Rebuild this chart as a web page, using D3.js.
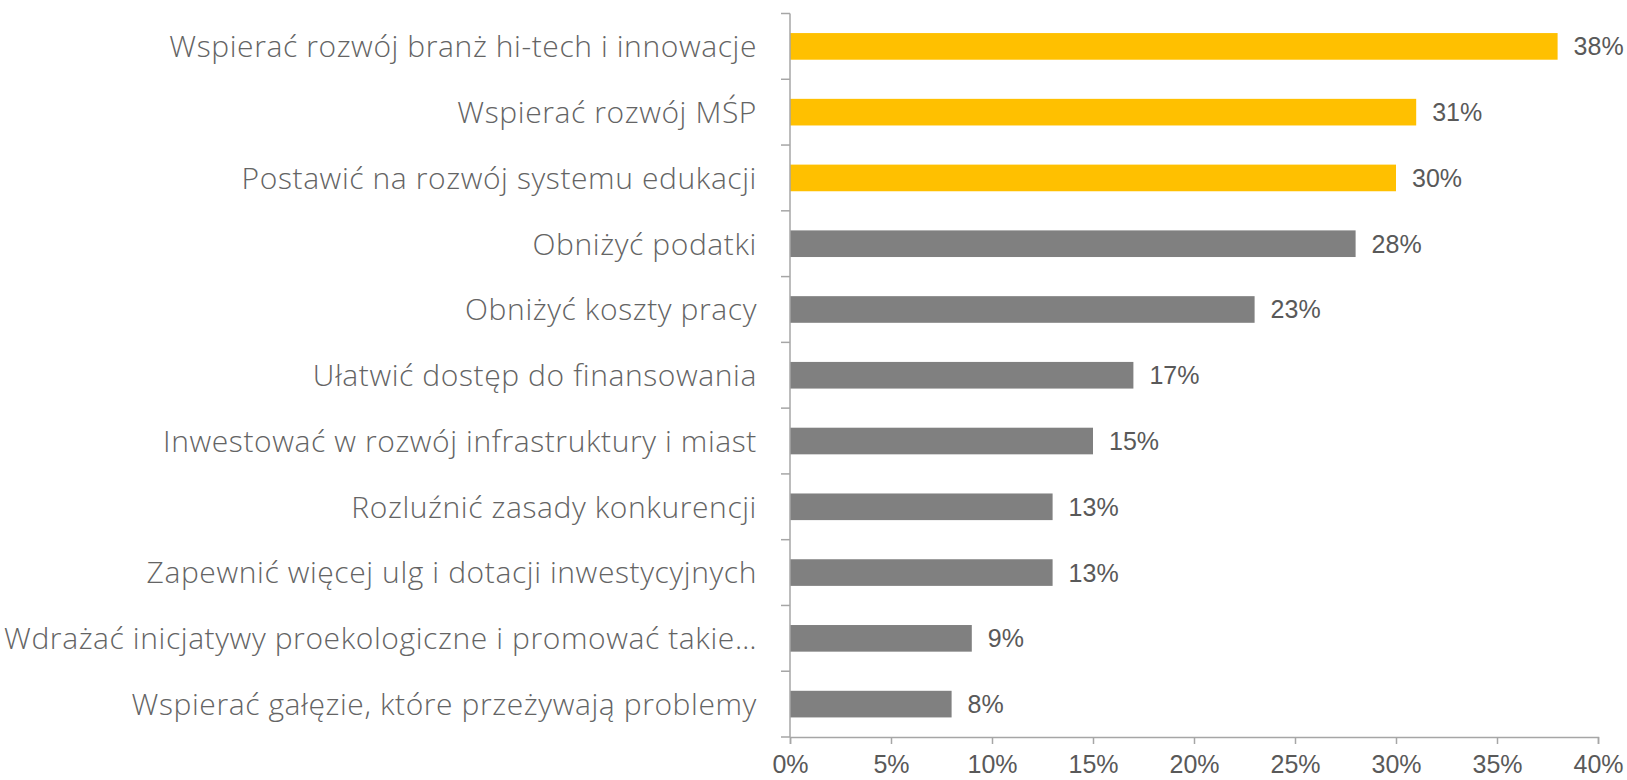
<!DOCTYPE html>
<html>
<head>
<meta charset="utf-8">
<script src="https://cdn.jsdelivr.net/npm/d3@7"></script>
<style>
  body { margin: 0; background: #fff; }
  svg { display: block; }
</style>
</head>
<body>
<div class="chart"></div>
<script>
'use strict';

var categories = [
  'Wspierać rozwój branż hi-tech i innowacje',
  'Wspierać rozwój MŚP',
  'Postawić na rozwój systemu edukacji',
  'Obniżyć podatki',
  'Obniżyć koszty pracy',
  'Ułatwić dostęp do finansowania',
  'Inwestować w rozwój infrastruktury i miast',
  'Rozluźnić zasady konkurencji',
  'Zapewnić więcej ulg i dotacji inwestycyjnych',
  'Wdrażać inicjatywy proekologiczne i promować takie…',
  'Wspierać gałęzie, które przeżywają problemy'
];
var values = [38, 31, 30, 28, 23, 17, 15, 13, 13, 9, 8];
var highlighted = [true, true, true, false, false, false, false, false, false, false, false];
var xTicks = [0, 5, 10, 15, 20, 25, 30, 35, 40];

var width = 1627, height = 780;
var margin = {top: 13.5, right: 29, bottom: 43, left: 790};

var svg = d3.select('.chart').append('svg')
    .attr('width', width)
    .attr('height', height);

var x = d3.scaleLinear()
    .domain([0, 40])
    .range([margin.left, width - margin.right]);

var y = d3.scaleBand()
    .domain(categories)
    .range([margin.top, height - margin.bottom])
    .paddingInner(0.595)
    .paddingOuter(0.2975);

var axisColor = '#a6a6a6';
var textColor = '#646464';

// bars
svg.append('g').selectAll('rect')
    .data(values)
  .enter().append('rect')
    .attr('x', x(0))
    .attr('y', function(d, i) { return y(categories[i]); })
    .attr('width', function(d) { return x(d) - x(0); })
    .attr('height', y.bandwidth())
    .attr('fill', function(d, i) { return highlighted[i] ? '#ffc000' : '#808080'; });

// value labels
svg.append('g').selectAll('text')
    .data(values)
  .enter().append('text')
    .attr('x', function(d) { return x(d) + 16; })
    .attr('y', function(d, i) { return y(categories[i]) + y.bandwidth() / 2; })
    .attr('dy', '0.36em')
    .style('font-family', 'Liberation Sans, Arial, sans-serif')
    .style('font-size', '25px')
    .style('fill', '#595959')
    .text(function(d) { return d + '%'; });

// y axis: line plus ticks at category boundaries
var step = y.step();
var bounds = d3.range(categories.length + 1).map(function(i) { return margin.top + i * step; });
var yAxis = svg.append('g');
yAxis.append('line')
    .attr('x1', x(0)).attr('x2', x(0))
    .attr('y1', margin.top).attr('y2', height - margin.bottom)
    .style('stroke', axisColor).style('stroke-width', 1.5);
yAxis.selectAll('.tick')
    .data(bounds)
  .enter().append('line')
    .attr('x1', x(0) - 9).attr('x2', x(0))
    .attr('y1', function(d) { return d; }).attr('y2', function(d) { return d; })
    .style('stroke', axisColor).style('stroke-width', 1.5);

// category labels
yAxis.selectAll('text')
    .data(categories)
  .enter().append('text')
    .attr('x', x(0) - 33)
    .attr('y', function(d) { return y(d) + y.bandwidth() / 2; })
    .attr('dy', '0.36em')
    .attr('text-anchor', 'end')
    .style('font-family', '"Open Sans", sans-serif')
    .style('font-weight', 300)
    .style('font-size', '30px')
    .style('letter-spacing', '0.6px')
    .style('fill', textColor)
    .text(function(d) { return d; });

// x axis
var xAxis = svg.append('g')
    .attr('transform', 'translate(0,' + (height - margin.bottom) + ')')
    .call(d3.axisBottom(x)
      .tickValues(xTicks)
      .tickSize(7)
      .tickPadding(11)
      .tickFormat(function(d) { return d + '%'; }));
xAxis.select('.domain').style('stroke', axisColor).style('stroke-width', 1.5);
xAxis.selectAll('.tick line').style('stroke', axisColor).style('stroke-width', 1.5);
xAxis.selectAll('.tick text')
    .style('font-family', 'Liberation Sans, Arial, sans-serif')
    .style('font-size', '25px')
    .style('fill', '#595959');
</script>
</body>
</html>
